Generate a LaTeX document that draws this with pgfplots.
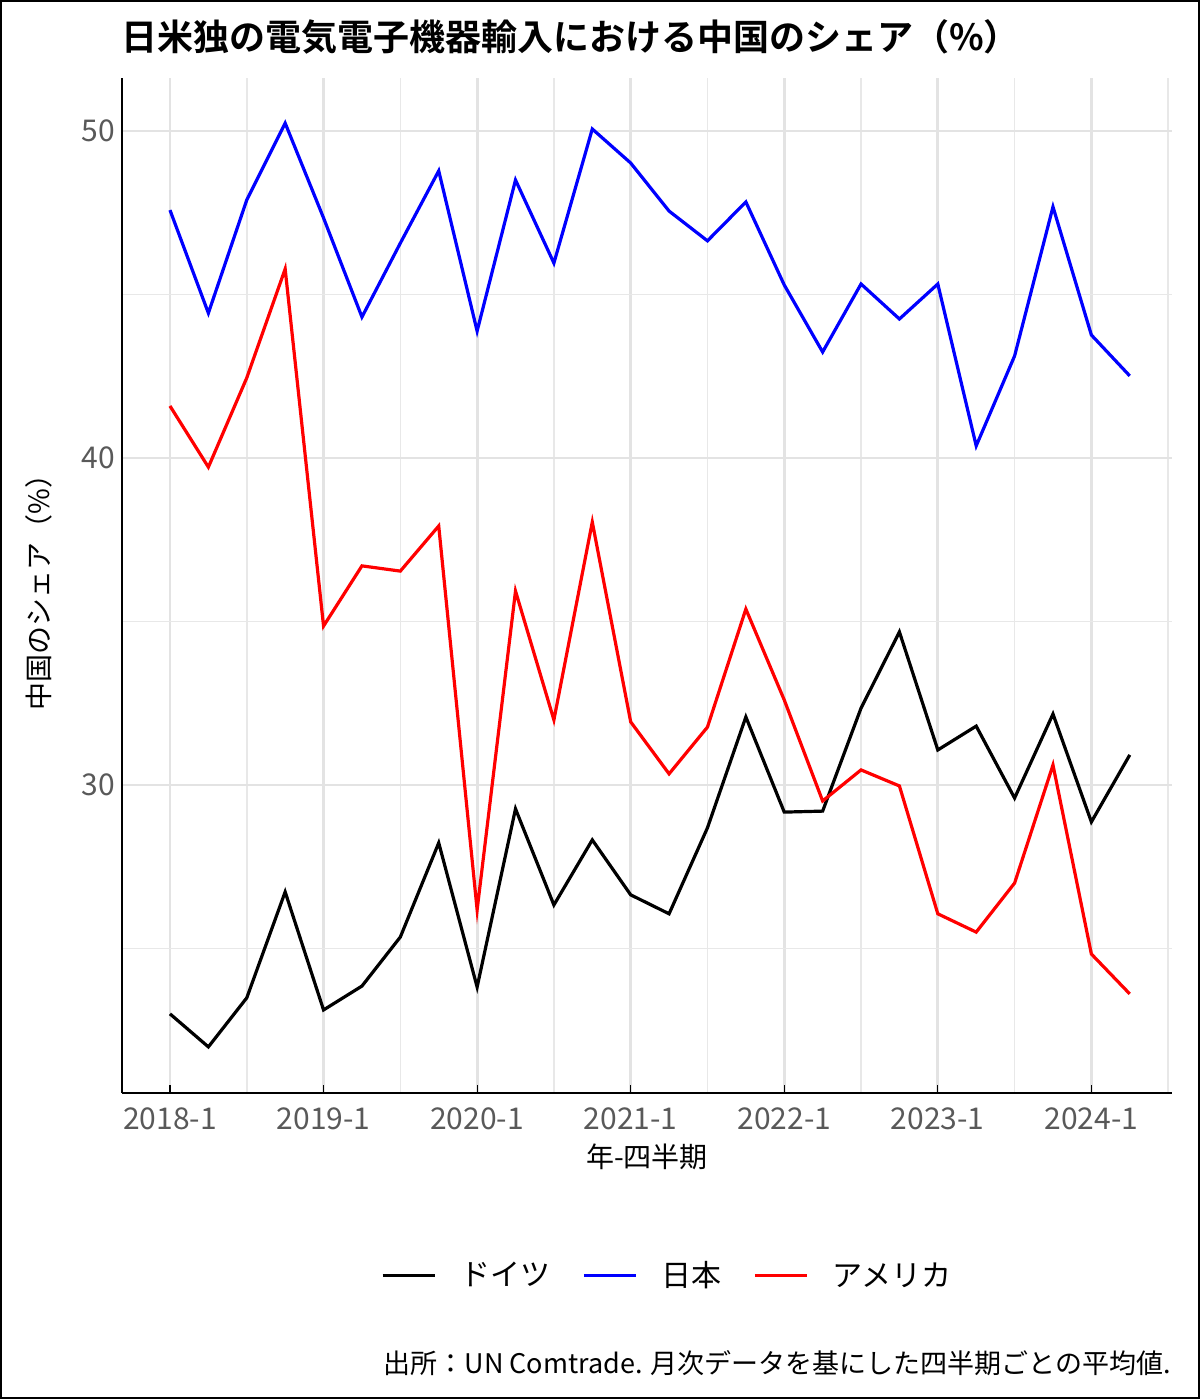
\documentclass[border=0pt]{standalone}
\usepackage{pgfplots}
\pgfplotsset{compat=1.18}
\usepackage{fontspec}
\setmainfont{Noto Sans CJK JP}
\newfontfamily\boldcjk{Noto Sans CJK JP Bold}
\begin{document}
\begin{tikzpicture}[x=1pt,y=1pt]
\draw[black,line width=1pt] (0.5,0.5) rectangle (599.5,699);
\begin{axis}[at={(61pt,153pt)},anchor=south west,scale only axis,
  width=525pt,height=507.5pt,
  xmin=-1.25,xmax=26.1,ymin=20.58,ymax=51.62,
  axis x line*=bottom, axis y line*=left,
  axis line style={black,line width=0.8pt},
  xtick={0,4,...,24},xticklabels={2018-1,2019-1,2020-1,2021-1,2022-1,2023-1,2024-1},
  minor xtick={2,6,...,26},
  ytick={30,40,50},minor ytick={25,35,45},
  grid=both,major grid style={gray!22,line width=1.4pt},minor grid style={gray!18,line width=0.8pt},
  tick style={black,line width=0.6pt},major tick length=4pt,minor tick length=0pt,
  y tick style={draw=none},
  ticklabel style={font=\fontsize{15}{17}\selectfont,text=gray!70!black},
  xticklabel style={yshift=-4pt},
  /pgf/number format/assume math mode=true,
  xlabel={年-四半期},ylabel={中国のシェア（\%）},
  label style={font=\fontsize{14}{16}\selectfont},
  xlabel style={yshift=0pt},ylabel style={yshift=8pt},
  legend style={at={(0.52,-0.18)},anchor=center,draw=none,legend columns=3,
    font=\fontsize{15}{17}\selectfont,/tikz/every even column/.append style={column sep=14pt}},
  legend image code/.code={\draw[#1,line width=1.6pt] (0pt,0pt) -- (26pt,0pt);},
  every axis plot/.append style={line width=1.6pt},
]
\addplot[black] coordinates {(0,23.00)(1,21.99)(2,23.49)(3,26.73)(4,23.12)(5,23.85)(6,25.35)(7,28.23)(8,23.82)(9,29.27)(10,26.33)(11,28.32)(12,26.64)(13,26.06)(14,28.69)(15,32.08)(16,29.17)(17,29.20)(18,32.35)(19,34.68)(20,31.07)(21,31.80)(22,29.60)(23,32.17)(24,28.87)(25,30.92)};
\addlegendentry{\hspace{10pt}ドイツ}
\addplot[blue] coordinates {(0,47.58)(1,44.43)(2,47.89)(3,50.24)(4,47.34)(5,44.31)(6,46.57)(7,48.78)(8,43.88)(9,48.50)(10,45.96)(11,50.06)(12,49.02)(13,47.55)(14,46.64)(15,47.83)(16,45.29)(17,43.24)(18,45.32)(19,44.25)(20,45.32)(21,40.37)(22,43.12)(23,47.68)(24,43.76)(25,42.51)};
\addlegendentry{\hspace{10pt}日本}
\addplot[red] coordinates {(0,41.59)(1,39.72)(2,42.45)(3,45.78)(4,34.86)(5,36.70)(6,36.54)(7,37.92)(8,26.18)(9,35.93)(10,31.99)(11,38.04)(12,31.93)(13,30.34)(14,31.77)(15,35.38)(16,32.60)(17,29.51)(18,30.46)(19,29.97)(20,26.06)(21,25.50)(22,27.00)(23,30.61)(24,24.83)(25,23.61)};
\addlegendentry{\hspace{10pt}アメリカ}
\end{axis}
\node[anchor=west,font=\boldcjk\fontsize{18}{20}\selectfont] at (57,681) {日米独の電気電子機器輸入における中国のシェア（\%）};
\node[anchor=east,font=\fontsize{13.5}{15}\selectfont] at (589,18) {出所：UN Comtrade. 月次データを基にした四半期ごとの平均値.};
\end{tikzpicture}
\end{document}
